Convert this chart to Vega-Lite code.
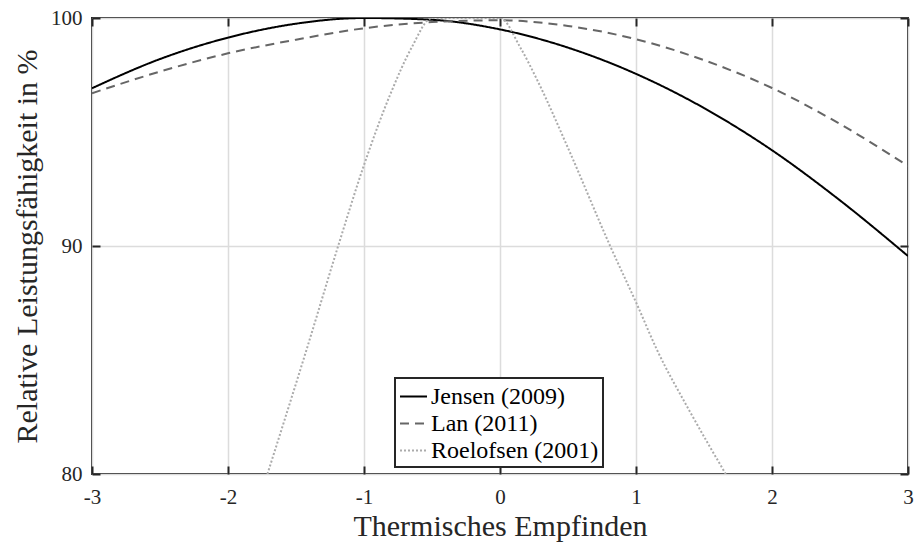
{
  "$schema": "https://vega.github.io/schema/vega-lite/v6.json",
  "width": 816,
  "height": 456,
  "autosize": {"type": "none"},
  "padding": {"left": 92, "top": 18, "right": 6, "bottom": 70},
  "background": "white",
  "config": {
    "view": {"stroke": "#262626", "strokeWidth": 2},
    "font": "Liberation Serif",
    "axis": {
      "domain": false,
      "labelFont": "Liberation Serif",
      "titleFont": "Liberation Serif",
      "labelColor": "#262626",
      "titleColor": "#262626",
      "titleFontWeight": "normal",
      "gridColor": "#dcdcdc",
      "gridWidth": 1.5,
      "tickColor": "#262626",
      "tickWidth": 2,
      "tickSize": -8,
      "labelFlush": false,
      "labelOverlap": false
    },
    "legend": {
      "orient": "none",
      "legendX": 303,
      "legendY": 360,
      "symbolType": "stroke",
      "symbolSize": 729,
      "symbolStrokeWidth": 2,
      "labelFontSize": 24,
      "labelFont": "Liberation Serif",
      "labelColor": "#000000",
      "labelLimit": 400,
      "strokeColor": "#262626",
      "strokeWidth": 2,
      "fillColor": "white",
      "padding": 4,
      "rowPadding": 0,
      "labelOffset": 3,
      "symbolOffset": 0
    }
  },
  "data": {
    "values": [
      {"series": "Jensen (2009)", "x": -3, "y": 96.92},
      {"series": "Jensen (2009)", "x": -2.5, "y": 98.2},
      {"series": "Jensen (2009)", "x": -2, "y": 99.14},
      {"series": "Jensen (2009)", "x": -1.5, "y": 99.75},
      {"series": "Jensen (2009)", "x": -1, "y": 100},
      {"series": "Jensen (2009)", "x": -0.5, "y": 99.92},
      {"series": "Jensen (2009)", "x": 0, "y": 99.5},
      {"series": "Jensen (2009)", "x": 0.5, "y": 98.7},
      {"series": "Jensen (2009)", "x": 1, "y": 97.55},
      {"series": "Jensen (2009)", "x": 1.5, "y": 96.05},
      {"series": "Jensen (2009)", "x": 2, "y": 94.2},
      {"series": "Jensen (2009)", "x": 2.5, "y": 92.0},
      {"series": "Jensen (2009)", "x": 3, "y": 89.56},
      {"series": "Lan (2011)", "x": -3, "y": 96.7},
      {"series": "Lan (2011)", "x": -2.5, "y": 97.65},
      {"series": "Lan (2011)", "x": -2, "y": 98.45},
      {"series": "Lan (2011)", "x": -1.5, "y": 99.05},
      {"series": "Lan (2011)", "x": -1, "y": 99.55},
      {"series": "Lan (2011)", "x": -0.5, "y": 99.82},
      {"series": "Lan (2011)", "x": 0, "y": 99.9},
      {"series": "Lan (2011)", "x": 0.5, "y": 99.65},
      {"series": "Lan (2011)", "x": 1, "y": 99.07},
      {"series": "Lan (2011)", "x": 1.5, "y": 98.15},
      {"series": "Lan (2011)", "x": 2, "y": 96.93},
      {"series": "Lan (2011)", "x": 2.5, "y": 95.35},
      {"series": "Lan (2011)", "x": 3, "y": 93.51},
      {"series": "Roelofsen (2001)", "x": -1.71, "y": 80},
      {"series": "Roelofsen (2001)", "x": -1.42, "y": 85.5},
      {"series": "Roelofsen (2001)", "x": -1.19, "y": 90},
      {"series": "Roelofsen (2001)", "x": -1.0, "y": 93.55},
      {"series": "Roelofsen (2001)", "x": -0.8, "y": 96.75},
      {"series": "Roelofsen (2001)", "x": -0.65, "y": 98.7},
      {"series": "Roelofsen (2001)", "x": -0.5, "y": 100},
      {"series": "Roelofsen (2001)", "x": 0, "y": 100},
      {"series": "Roelofsen (2001)", "x": 0.15, "y": 98.7},
      {"series": "Roelofsen (2001)", "x": 0.28, "y": 97.2},
      {"series": "Roelofsen (2001)", "x": 0.5, "y": 94.3},
      {"series": "Roelofsen (2001)", "x": 0.81, "y": 90},
      {"series": "Roelofsen (2001)", "x": 1.01, "y": 87.4},
      {"series": "Roelofsen (2001)", "x": 1.15, "y": 85.5},
      {"series": "Roelofsen (2001)", "x": 1.4, "y": 82.7},
      {"series": "Roelofsen (2001)", "x": 1.66, "y": 80}
    ]
  },
  "layer": [
    {
      "mark": {"type": "line", "interpolate": "monotone", "strokeWidth": 2, "clip": true},
      "encoding": {
        "x": {
          "field": "x", "type": "quantitative",
          "scale": {"domain": [-3, 3], "nice": false, "zero": false},
          "axis": {"values": [-3, -2, -1, 0, 1, 2, 3], "labelExpr": "datum.value < 0 ? '-' + abs(datum.value) : '' + datum.value", "title": "Thermisches Empfinden", "labelFontSize": 21, "titleFontSize": 30, "labelPadding": 20, "titlePadding": 4}
        },
        "y": {
          "field": "y", "type": "quantitative",
          "scale": {"domain": [80, 100], "nice": false, "zero": false},
          "axis": {"values": [80, 90, 100], "title": "Relative Leistungsfähigkeit in %", "labelFontSize": 21, "titleFontSize": 30, "labelPadding": 18, "titlePadding": 8}
        },
        "color": {
          "field": "series", "type": "nominal",
          "scale": {"domain": ["Jensen (2009)", "Lan (2011)", "Roelofsen (2001)"], "range": ["#000000", "#666666", "#ababab"]},
          "legend": {"title": null}
        },
        "strokeDash": {
          "field": "series", "type": "nominal",
          "scale": {"domain": ["Jensen (2009)", "Lan (2011)", "Roelofsen (2001)"], "range": [[1, 0], [9, 6], [2, 2]]},
          "legend": {"title": null}
        }
      }
    },
    {
      "mark": {"type": "line", "opacity": 0},
      "encoding": {
        "x": {
          "field": "x", "type": "quantitative",
          "axis": {"values": [-3, -2, -1, 0, 1, 2, 3], "labels": false, "title": null, "grid": false}
        },
        "y": {
          "field": "y", "type": "quantitative",
          "axis": {"values": [80, 90, 100], "labels": false, "title": null, "grid": false}
        },
        "detail": {"field": "series"}
      }
    }
  ],
  "resolve": {"axis": {"x": "independent", "y": "independent"}}
}
